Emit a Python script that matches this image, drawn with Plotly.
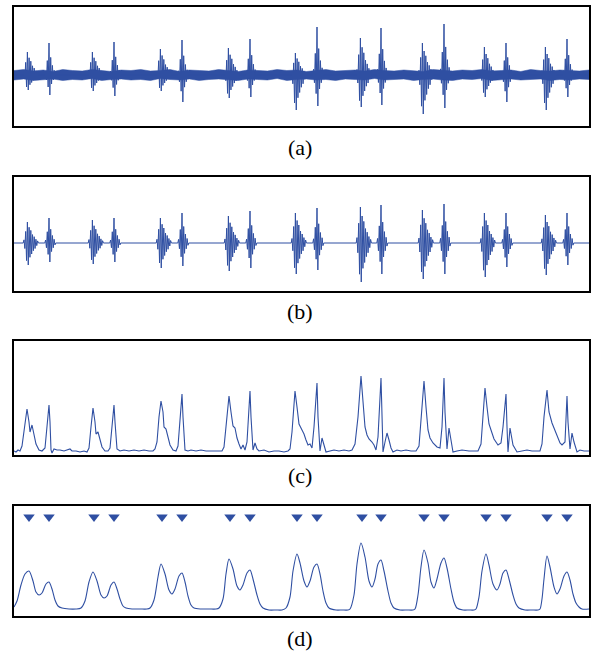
import numpy as np
import plotly.graph_objects as go

# ---------------- data (time units: 0..575 across each record) ----------------
s1_times = [15, 80, 148, 216, 283, 348, 410, 472, 533]
s2_times = [35, 100, 168, 236, 303, 367, 430, 492, 553]

# (a) raw recording: burst peak amplitudes (up / down) and background noise band
a_s1_up = [23, 23, 26, 27, 22, 37, 32, 28, 28]
a_s1_dn = [15, 16, 16, 23, 35, 32, 39, 22, 35]
a_s2_up = [32, 33, 35, 36, 48, 47, 51, 32, 36]
a_s2_dn = [20, 21, 27, 22, 31, 30, 33, 27, 22]
a_noise_hi = [4.5, 5.5, 4, 5, 3.5, 5.5, 4.5, 4, 5.5, 4.5, 3.5, 5, 4.5, 5.5, 4, 4.5, 5.5, 3.5, 5, 4.5,
              4, 5.5, 4.5, 3.5, 5, 4.5, 4, 5.5, 4.5, 5, 3.5, 4.5, 5.5, 4, 4.5, 5, 4, 5.5, 4.5, 4,
              5, 4.5, 3.5, 5.5, 4.5, 4, 5, 4.5, 5.5, 4, 4.5, 5, 3.5, 5.5, 4.5, 4, 5, 4.5, 4, 5]
a_noise_lo = [5, 4, 5.5, 4.5, 4, 5.5, 4.5, 5, 3.5, 5.5, 4.5, 4, 5, 4.5, 5.5, 3.5, 4.5, 5, 4, 5.5,
              4.5, 4, 5, 5.5, 4, 4.5, 5, 3.5, 5.5, 4.5, 4, 5, 4.5, 5.5, 4, 4.5, 5, 3.5, 5, 4.5,
              4, 5.5, 4.5, 4, 5, 5.5, 4, 4.5, 3.5, 5.5, 4.5, 4, 5, 4.5, 4, 5.5, 4.5, 5, 4, 4.5]

# (b) filtered signal: burst peak amplitudes
b_s1_up = [21, 23, 25, 27, 30, 36, 33, 30, 28]
b_s1_dn = [22, 21, 25, 28, 31, 39, 36, 34, 32]
b_s2_up = [25, 25, 30, 32, 35, 38, 39, 30, 30]
b_s2_dn = [19, 19, 23, 25, 27, 31, 31, 24, 22]

# normalised oscillation extremes of a heart-sound burst
s1_shape = [0.15, -0.25, 0.55, -0.8, 1.0, -1.0, 0.75, -0.65, 0.6, -0.5, 0.4, -0.35,
            0.3, -0.25, 0.18, -0.12, 0.1]
s2_shape = [0.12, -0.25, 0.45, -0.6, 1.0, -1.0, 0.55, -0.45, 0.3, -0.25, 0.15, -0.1]

# (c) envelope
c_t = [0, 2, 4, 6, 8, 11, 13, 15, 16, 18, 20, 22, 25, 28, 31, 33, 35, 36, 37, 38, 40, 43, 46, 50, 53, 56, 58, 62, 66, 70,
       73, 75, 77, 79, 81, 82, 84, 86, 88, 91, 94, 96, 98, 100, 101, 103, 106, 110, 115, 120, 125, 130, 135,
       139, 141, 143, 145, 147, 149, 150, 152, 154, 156, 159, 162, 164, 166, 168, 169, 171, 174, 177, 182, 187, 192, 197, 203,
       208, 210, 212, 215, 217, 219, 221, 223, 225, 227, 229, 231, 233, 236, 237, 239, 241, 243, 245, 250, 255, 260, 265, 270,
       274, 276, 278, 281, 283, 285, 288, 290, 292, 294, 296, 298, 300, 303, 304, 306, 308, 310, 312, 316, 320, 325, 330, 335,
       338, 341, 344, 347, 349, 351, 353, 355, 358, 360, 362, 364, 367, 368, 369, 371, 373, 375, 377, 379, 383, 387, 392, 397,
       402, 405, 407, 410, 412, 414, 416, 419, 423, 426, 428, 430, 431, 433, 435, 437, 439, 443, 448, 455, 461,
       464, 467, 469, 471, 473, 475, 477, 480, 484, 487, 489, 492, 493, 494, 496, 499, 503, 508, 513, 518, 523,
       526, 528, 530, 533, 535, 538, 540, 543, 546, 548, 551, 553, 554, 556, 558, 560, 563, 566, 570, 575]
c_v = [1, 0, 2, 1, 6, 30, 43, 30, 20, 27, 18, 8, 2, 1, 4, 25, 47, 30, 2, -1, 3, 2, 2, 1, 2, 3, 1, 1, 0, 1,
       0, 4, 25, 44, 30, 18, 20, 12, 5, 1, 1, 4, 25, 47, 30, 3, 1, 2, 1, 2, 1, 2, 1,
       1, 3, 10, 35, 51, 40, 25, 23, 14, 7, 2, 1, 6, 30, 58, 35, 2, 1, 2, 1, 2, 1, 1, 1,
       1, 5, 25, 56, 40, 26, 24, 14, 8, 3, 7, 2, 10, 61, 35, 2, 9, 3, 1, 2, 0, 1, 1, 0,
       1, 3, 20, 61, 45, 28, 22, 18, 12, 7, 8, 4, 25, 69, 35, 1, 14, 6, 0, 1, 2, 1, 2, 1,
       2, 8, 35, 76, 50, 25, 17, 13, 10, 7, 2, 15, 74, 40, 0, 10, 19, 12, 4, 0, 2, 1, 2, 1,
       1, 6, 30, 71, 45, 22, 14, 9, 5, 4, 25, 74, 40, 3, 24, 12, 0, 1, 2, 1, 1,
       1, 8, 35, 64, 45, 28, 22, 13, 7, 9, 25, 58, 25, 0, 24, 7, 0, 1, 2, 1, 1,
       1, 8, 35, 62, 40, 29, 24, 17, 9, 7, 10, 56, 30, 3, 19, 10, 0, 2, 1, 1]

# (d) smoothed envelope
d_t = [0, 3, 7, 11, 15, 19, 22, 25, 28, 32, 35, 38, 41, 44, 48, 55, 62,
       67, 71, 75, 79, 83, 87, 90, 93, 97, 100, 103, 106, 109, 112, 118, 126, 133,
       136, 140, 144, 147, 151, 155, 158, 161, 165, 168, 171, 174, 177, 180, 187, 195, 202,
       205, 209, 212, 215, 219, 223, 226, 229, 233, 236, 239, 243, 246, 249, 255, 262, 268,
       272, 276, 279, 283, 286, 290, 293, 296, 300, 303, 306, 309, 312, 315, 322, 328, 334,
       336, 340, 343, 347, 351, 355, 358, 361, 364, 367, 370, 374, 377, 380, 386, 393, 399,
       401, 404, 407, 410, 414, 417, 420, 423, 427, 430, 433, 437, 440, 443, 449, 455, 460,
       462, 465, 468, 472, 475, 479, 483, 486, 489, 492, 495, 499, 502, 505, 511, 518, 524,
       526, 528, 530, 533, 536, 540, 543, 546, 550, 553, 556, 559, 562, 565, 568, 575]
d_v = [2, 8, 24, 35, 38, 28, 17, 14, 16, 25, 27, 20, 9, 3, 1, 0, 0,
       1, 8, 27, 37, 28, 14, 11, 13, 24, 27, 20, 10, 3, 1, 0, 0, 0,
       1, 9, 32, 45, 35, 19, 15, 20, 33, 36, 27, 13, 4, 1, 0, 0, 0,
       1, 10, 35, 50, 40, 23, 19, 24, 36, 39, 30, 14, 5, 1, -1, -1, -1,
       1, 12, 38, 55, 46, 28, 22, 28, 42, 45, 35, 18, 6, 1, -1, -1, -1,
       0, 14, 45, 66, 52, 28, 22, 30, 45, 49, 38, 18, 6, 1, -1, -1, -1,
       0, 14, 42, 59, 46, 27, 21, 30, 46, 51, 41, 20, 7, 1, -1, -1, -1,
       0, 12, 38, 55, 44, 25, 19, 25, 36, 39, 30, 14, 5, 1, -1, -1, -1,
       0, 10, 30, 53, 42, 22, 15, 20, 33, 37, 29, 15, 6, 2, 0, 0]
marker_level = 92

panel_labels = ["(a)", "(b)", "(c)", "(d)"]

# ---------------- figure ----------------
W, H = 593, 653
BLUE = "#2f4fa2"
STEP = 0.85


def burst_signal(ups1, dns1, ups2, dns2):
    pts = [(0.0, 0.0), (575.0, 0.0)]
    for times, ups, dns, shape, start in ((s1_times, ups1, dns1, s1_shape, -5.0),
                                          (s2_times, ups2, dns2, s2_shape, -3.4)):
        for c, u, d in zip(times, ups, dns):
            pts.append((c + start - 0.8, 0.0))
            for k, s in enumerate(shape):
                pts.append((c + start + k * STEP, s * u if s > 0 else s * d))
            pts.append((c + start + len(shape) * STEP, 0.0))
    pts.sort()
    return [p[0] for p in pts], [p[1] for p in pts]


fig = go.Figure()

# (a)
nt = list(np.linspace(0, 575, len(a_noise_hi)))
fig.add_trace(go.Scatter(x=nt + nt[::-1], y=a_noise_hi + [-v for v in a_noise_lo[::-1]],
                         fill="toself", fillcolor=BLUE, line=dict(width=0.5, color=BLUE),
                         mode="lines", hoverinfo="skip", xaxis="x", yaxis="y"))
at, av = burst_signal(a_s1_up, a_s1_dn, a_s2_up, a_s2_dn)
fig.add_trace(go.Scatter(x=at, y=av, mode="lines", line=dict(color=BLUE, width=1),
                         xaxis="x", yaxis="y"))
# (b)
bt, bv = burst_signal(b_s1_up, b_s1_dn, b_s2_up, b_s2_dn)
fig.add_trace(go.Scatter(x=bt, y=bv, mode="lines", line=dict(color=BLUE, width=1),
                         xaxis="x2", yaxis="y2"))
# (c)
fig.add_trace(go.Scatter(x=c_t, y=c_v, mode="lines", line=dict(color=BLUE, width=1.1),
                         xaxis="x3", yaxis="y3"))
# (d)
fig.add_trace(go.Scatter(x=d_t, y=d_v, mode="lines", line=dict(color=BLUE, width=1.1, shape="spline", smoothing=0.8),
                         xaxis="x4", yaxis="y4"))
mk = sorted(s1_times + s2_times)
fig.add_trace(go.Scatter(x=mk, y=[marker_level] * len(mk), mode="markers",
                         marker=dict(symbol="triangle-down", size=10, color=BLUE),
                         xaxis="x4", yaxis="y4"))

# panel frames in pixels (top, bottom), y-ranges, label centres
frames = [(7, 126), (177, 291), (341, 455), (506, 616)]
yranges = [[-51, 68], [-48, 66], [-3, 111], [-7, 103]]
label_y = [147, 312, 475, 638]
xdom = [14 / W, 589 / W]

layout = dict(width=W, height=H, margin=dict(l=0, r=0, t=0, b=0),
              paper_bgcolor="white", plot_bgcolor="white", showlegend=False)
annotations = []
for i, ((top, bot), yr, ly, lab) in enumerate(zip(frames, yranges, label_y, panel_labels)):
    n = "" if i == 0 else str(i + 1)
    layout["xaxis" + n] = dict(domain=xdom, range=[0, 575], anchor="y" + n,
                               showline=True, mirror=True, linecolor="black", linewidth=2,
                               showgrid=False, zeroline=False, showticklabels=False, ticks="")
    layout["yaxis" + n] = dict(domain=[1 - bot / H, 1 - top / H], range=yr, anchor="x" + n,
                               showline=True, mirror=True, linecolor="black", linewidth=2,
                               showgrid=False, zeroline=False, showticklabels=False, ticks="")
    annotations.append(dict(text=lab, xref="paper", yref="paper", x=300 / W, y=1 - ly / H,
                            xanchor="center", yanchor="middle", showarrow=False,
                            font=dict(family="Liberation Serif", size=22, color="black")))
layout["annotations"] = annotations
fig.update_layout(**layout)

fig.write_html("out.html", config={"displayModeBar": False},
               post_script="document.body.style.margin='0';document.body.style.padding='0';"
                           "document.documentElement.style.overflow='hidden';")
